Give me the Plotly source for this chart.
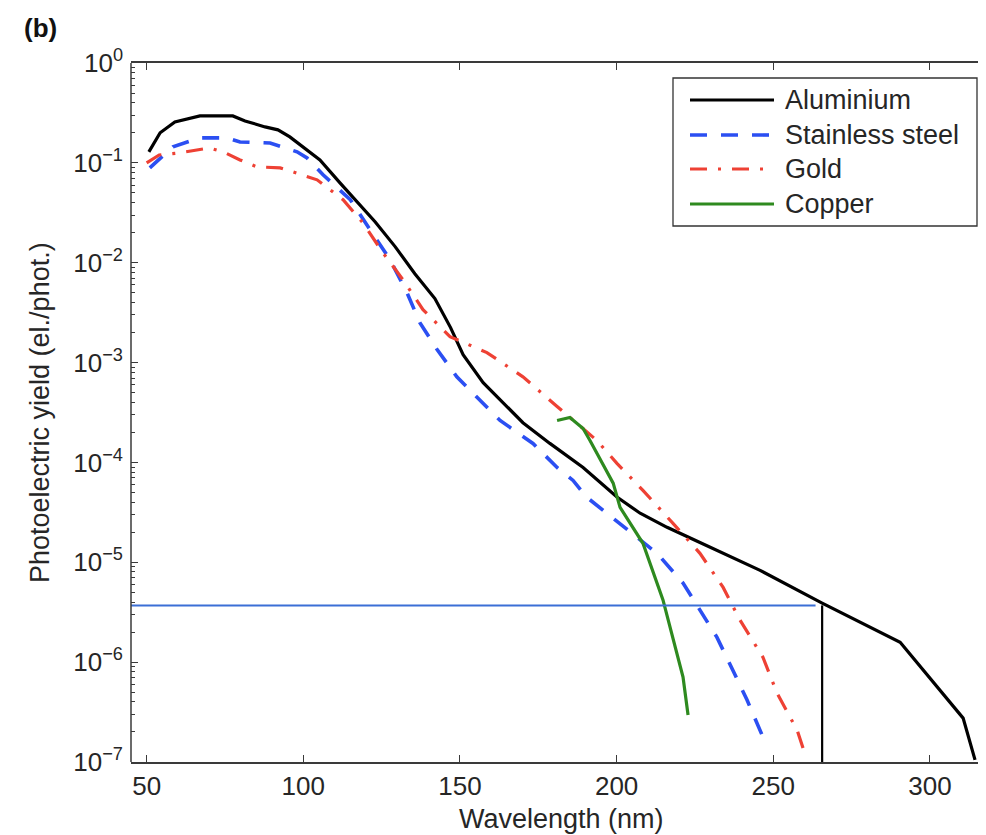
import plotly.graph_objects as go

# ---------------- data ----------------
al_wl = [50.7, 54.3, 59.0, 67.0, 77.5, 81.4, 87.8, 91.9, 95.7, 100.5, 105.3, 111.7, 118.0,
         122.9, 129.3, 135.6, 142.0, 147.0, 151.0, 157.4, 170.1, 178.7, 189.3, 200.1, 207.5,
         216.1, 226.6, 245.8, 265.6, 290.5, 310.6, 314.4]
al_y = [0.129, 0.200, 0.257, 0.295, 0.295, 0.263, 0.229, 0.214, 0.182, 0.141, 0.107, 0.0631,
        0.0380, 0.0257, 0.0145, 0.00776, 0.00437, 0.00224, 0.00120, 6.3e-4, 2.5e-4, 1.55e-4,
        8.9e-5, 4.5e-5, 3.1e-5, 2.24e-5, 1.58e-5, 8.3e-6, 3.9e-6, 1.58e-6, 2.75e-7, 1.05e-7]

ss_wl = [51.0, 58.4, 67.0, 75.6, 79.8, 89.4, 98.0, 101.2, 106.3, 115.0, 121.3, 127.7, 133.1,
         137.2, 142.7, 149.0, 162.8, 173.3, 181.0, 186.1, 190.5, 195.7, 205.3, 212.9, 221.2,
         226.6, 232.0, 237.1, 241.6, 246.7, 248.0]
ss_y = [0.089, 0.145, 0.178, 0.178, 0.162, 0.158, 0.129, 0.112, 0.0759, 0.0427, 0.0214, 0.0107,
        0.00501, 0.00251, 0.00135, 7.2e-4, 2.63e-4, 1.55e-4, 8.9e-5, 6.6e-5, 4.47e-5, 3.31e-5,
        1.95e-5, 1.23e-5, 6.2e-6, 3.3e-6, 1.78e-6, 8.3e-7, 4.2e-7, 1.78e-7, 1.51e-7]

au_wl = [50.0, 54.0, 60.6, 67.0, 70.0, 74.4, 79.8, 85.2, 92.6, 96.7, 104.4, 112.7, 119.0, 125.4,
         131.8, 138.2, 146.8, 158.6, 170.1, 181.0, 193.7, 200.1, 208.4, 218.0, 226.6, 234.0,
         239.4, 246.7, 251.2, 257.6, 259.5]
au_y = [0.100, 0.120, 0.126, 0.135, 0.141, 0.129, 0.107, 0.0912, 0.0891, 0.0813, 0.0676, 0.0427,
        0.0251, 0.0126, 0.00676, 0.00339, 0.00182, 0.00126, 7.2e-4, 3.63e-4, 1.66e-4, 9.8e-5,
        5.25e-5, 2.45e-5, 1.23e-5, 5.6e-6, 2.63e-6, 1.12e-6, 4.9e-7, 2.09e-7, 1.38e-7]

cu_wl = [181.0, 185.1, 189.3, 191.5, 198.9, 201.1, 208.4, 214.8, 221.2, 222.8]
cu_y = [2.63e-4, 2.82e-4, 2.19e-4, 1.66e-4, 6.2e-5, 3.55e-5, 1.55e-5, 4.2e-6, 7.1e-7, 2.95e-7]

series_names = ["Aluminium", "Stainless steel", "Gold", "Copper"]

threshold_yield = 3.7e-6
cutoff_wavelength = 265.6
guide_end_wavelength = 263.5

x_tickvals = [50, 100, 150, 200, 250, 300]
y_tickvals = [1, 1e-1, 1e-2, 1e-3, 1e-4, 1e-5, 1e-6, 1e-7]
y_ticktext = ["10<sup>0</sup>", "10<sup>−1</sup>", "10<sup>−2</sup>", "10<sup>−3</sup>",
              "10<sup>−4</sup>", "10<sup>−5</sup>", "10<sup>−6</sup>", "10<sup>−7</sup>"]

# ---------------- styles ----------------
FONT = "Liberation Sans, Arial, Helvetica, sans-serif"
TXT = "#262626"
AX = "#3a3a3a"
styles = {
    "Aluminium": dict(color="#000000", width=3.2, dash="solid"),
    "Stainless steel": dict(color="#2b4ff2", width=3.6, dash="17px,14px"),
    "Gold": dict(color="#ee4134", width=3.2, dash="17px,11px,3px,11px"),
    "Copper": dict(color="#2e8a1f", width=3.2, dash="solid"),
}

OFF = 8  # page body margin
W, H = 986 - OFF, 835 - OFF
L, R, T, B = 131 - OFF, 0, 63 - OFF, 73
PW, PH = W - L - R, H - T - B


def px_x(p):  # reference screen pixel -> paper
    return (p - OFF - L) / PW


def px_y(p):
    return (H - B - (p - OFF)) / PH


fig = go.Figure()
for name, xs, ys in zip(series_names, [al_wl, ss_wl, au_wl, cu_wl], [al_y, ss_y, au_y, cu_y]):
    fig.add_trace(go.Scatter(x=xs, y=ys, mode="lines", name=name, line=styles[name],
                             showlegend=False))

# guide lines
fig.add_trace(go.Scatter(x=[45, guide_end_wavelength], y=[threshold_yield, threshold_yield],
                         mode="lines", line=dict(color="#3b6fd6", width=2), showlegend=False))
fig.add_trace(go.Scatter(x=[cutoff_wavelength, cutoff_wavelength], y=[1e-7, threshold_yield],
                         mode="lines", line=dict(color="#000000", width=2.2), showlegend=False))

shapes = []
shapes.append(dict(type="line", xref="paper", yref="paper", x0=0, x1=0, y0=0, y1=1,
                   line=dict(color=AX, width=1.5)))
shapes.append(dict(type="rect", xref="paper", yref="paper", x0=px_x(673), x1=px_x(977),
                   y0=px_y(226), y1=px_y(78), line=dict(color="#333333", width=1.3),
                   fillcolor="white", layer="above"))
annotations = []
leg_rows = [100, 135, 169, 204]
for name, yy in zip(series_names, leg_rows):
    st = styles[name]
    shapes.append(dict(type="line", xref="paper", yref="paper", x0=px_x(690), x1=px_x(774),
                       y0=px_y(yy), y1=px_y(yy), layer="above",
                       line=dict(color=st["color"], width=st["width"], dash=st["dash"])))
    annotations.append(dict(xref="paper", yref="paper", x=px_x(783), y=px_y(yy), text=name,
                            showarrow=False, xanchor="left", yanchor="middle",
                            font=dict(family=FONT, size=27, color=TXT)))

annotations.append(dict(xref="paper", yref="paper", x=px_x(40), y=px_y(28), text="<b>(b)</b>",
                        showarrow=False, xanchor="center", yanchor="middle",
                        font=dict(family=FONT, size=26, color="#111111")))
annotations.append(dict(xref="paper", yref="paper", x=px_x(561), y=px_y(819),
                        text="Wavelength (nm)", showarrow=False, xanchor="center",
                        yanchor="middle", font=dict(family=FONT, size=27, color=TXT)))
annotations.append(dict(xref="paper", yref="paper", x=px_x(40), y=px_y(413),
                        text="Photoelectric yield (el./phot.)", textangle=-90,
                        showarrow=False, xanchor="center", yanchor="middle",
                        font=dict(family=FONT, size=27, color=TXT)))

fig.update_layout(
    width=W, height=H,
    margin=dict(l=L, r=R, t=T, b=B),
    paper_bgcolor="white", plot_bgcolor="white",
    showlegend=False,
    shapes=shapes, annotations=annotations,
    font=dict(family=FONT, color=TXT),
)
fig.update_xaxes(range=[45, 45 + PW / 3.133], tickvals=x_tickvals, ticks="inside", ticklen=7,
                 tickcolor=AX, tickwidth=1.3, showline=True, linecolor=AX, linewidth=1.5,
                 mirror="ticks", showgrid=False, zeroline=False,
                 tickfont=dict(family=FONT, size=26, color=TXT))
fig.update_yaxes(type="log", range=[-7, 0], tickmode="array", tickvals=y_tickvals,
                 ticktext=y_ticktext, ticks="inside", ticklen=7, tickcolor=AX, tickwidth=1.3,
                 showline=False, mirror="ticks", showgrid=False, zeroline=False,
                 ticklabelstandoff=7,
                 minor=dict(ticks="inside", ticklen=4, tickcolor=AX, dtick="D1", showgrid=False),
                 tickfont=dict(family=FONT, size=26, color=TXT))

fig.write_html("out.html")
